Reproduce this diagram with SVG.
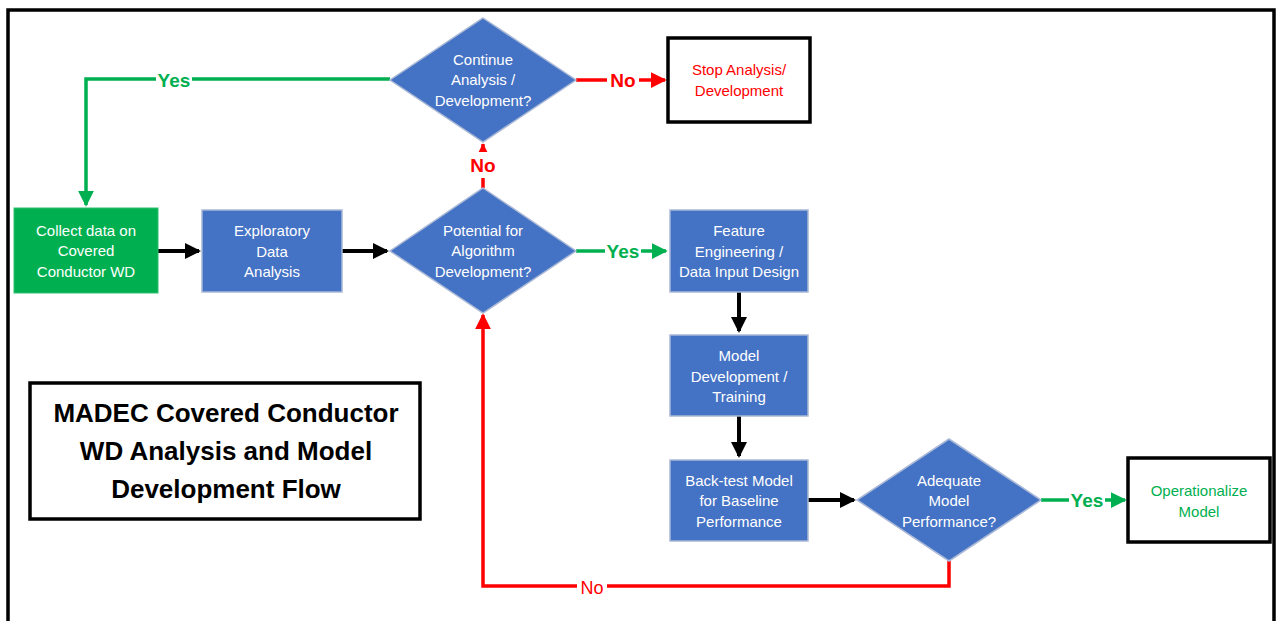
<svg xmlns="http://www.w3.org/2000/svg" width="1278" height="621" viewBox="0 0 1278 621">
<style>
.blue{fill:#4472C4;stroke:#A9B8D6;stroke-width:1.5}
.wt{fill:#FFFFFF;font-family:"Liberation Sans",Arial,sans-serif;font-size:15px;text-anchor:middle}
.box{fill:#FFFFFF;stroke:#000000;stroke-width:3.5}
.blk{stroke:#000000;stroke-width:4;fill:none}
.grn{stroke:#00B050;stroke-width:3.5;fill:none}
.red{stroke:#FF0000;stroke-width:3.5;fill:none}
.lblg{fill:#00B050;font-family:"Liberation Sans",Arial,sans-serif;font-size:19px;font-weight:bold;text-anchor:middle}
.lblr{fill:#FF0000;font-family:"Liberation Sans",Arial,sans-serif;font-size:19px;font-weight:bold;text-anchor:middle}
.lblr2{fill:#FF0000;font-family:"Liberation Sans",Arial,sans-serif;font-size:18px;text-anchor:middle}
</style>
<defs>
<marker id="ab" markerWidth="4" markerHeight="4" refX="3.5" refY="2" orient="auto" markerUnits="strokeWidth"><path d="M0,0 L4,2 L0,4 z" fill="#000000"/></marker>
<marker id="ag" markerWidth="4.5" markerHeight="4.5" refX="4" refY="2.25" orient="auto" markerUnits="strokeWidth"><path d="M0,0 L4.5,2.25 L0,4.5 z" fill="#00B050"/></marker>
<marker id="ar" markerWidth="4.5" markerHeight="4.5" refX="4" refY="2.25" orient="auto" markerUnits="strokeWidth"><path d="M0,0 L4.5,2.25 L0,4.5 z" fill="#FF0000"/></marker>
<marker id="ars" markerWidth="3" markerHeight="3" refX="2.8" refY="1.5" orient="auto" markerUnits="strokeWidth"><path d="M0,0 L3,1.5 L0,3 z" fill="#FF0000"/></marker>
</defs>
<rect x="8" y="10" width="1266" height="620" fill="#FFFFFF" stroke="#000000" stroke-width="3.5"/>

<g id="connectors">
<path class="grn" d="M390,79 H86 V205" marker-end="url(#ag)"/>
<rect x="156" y="70" width="36" height="20" fill="#FFFFFF"/>
<text class="lblg" x="174" y="87">Yes</text>
<path class="red" d="M576,80 H665" marker-end="url(#ar)"/>
<rect x="607" y="70" width="32" height="20" fill="#FFFFFF"/>
<text class="lblr" x="623" y="87">No</text>
<path class="blk" d="M158,251 H199" marker-end="url(#ab)"/>
<path class="blk" d="M342,251 H387" marker-end="url(#ab)"/>
<path class="red" d="M483,188 V144" marker-end="url(#ars)"/>
<rect x="467" y="152" width="32" height="26" fill="#FFFFFF"/>
<text class="lblr" x="483" y="172">No</text>
<path class="grn" d="M576,251 H666" marker-end="url(#ag)"/>
<rect x="605" y="241" width="36" height="20" fill="#FFFFFF"/>
<text class="lblg" x="623" y="258">Yes</text>
<path class="blk" d="M739,292 V331" marker-end="url(#ab)"/>
<path class="blk" d="M739,416 V456" marker-end="url(#ab)"/>
<path class="blk" d="M808,500 H854" marker-end="url(#ab)"/>
<path class="grn" d="M1041,500 H1125" marker-end="url(#ag)"/>
<rect x="1069" y="490" width="36" height="20" fill="#FFFFFF"/>
<text class="lblg" x="1087" y="507">Yes</text>
<path class="red" d="M949,561 V586 H483 V315" marker-end="url(#ar)"/>
<rect x="577" y="577" width="30" height="20" fill="#FFFFFF"/>
<text class="lblr2" x="592" y="594">No</text>
</g>

<g id="continue">
<polygon class="blue" points="483,18 576,80 483,142 390,80"/>
<text class="wt" x="483" y="65">Continue</text>
<text class="wt" x="483" y="85">Analysis /</text>
<text class="wt" x="483" y="106">Development?</text>
</g>

<g id="stop">
<rect class="box" x="668" y="38" width="142" height="84"/>
<text class="wt" style="fill:#FF0000" x="739" y="75">Stop Analysis/</text>
<text class="wt" style="fill:#FF0000" x="739" y="96">Development</text>
</g>

<g id="collect">
<rect x="14" y="208" width="144" height="85" fill="#00B050" stroke="#33C070" stroke-width="1"/>
<text class="wt" x="86" y="236">Collect data on</text>
<text class="wt" x="86" y="256">Covered</text>
<text class="wt" x="86" y="277">Conductor WD</text>
</g>

<g id="exploratory">
<rect class="blue" x="202" y="210" width="140" height="82"/>
<text class="wt" x="272" y="236">Exploratory</text>
<text class="wt" x="272" y="257">Data</text>
<text class="wt" x="272" y="277">Analysis</text>
</g>

<g id="potential">
<polygon class="blue" points="483,188 576,251 483,313 390,251"/>
<text class="wt" x="483" y="236">Potential for</text>
<text class="wt" x="483" y="256">Algorithm</text>
<text class="wt" x="483" y="277">Development?</text>
</g>

<g id="feature">
<rect class="blue" x="670" y="210" width="138" height="82"/>
<text class="wt" x="739" y="236">Feature</text>
<text class="wt" x="739" y="257">Engineering /</text>
<text class="wt" x="739" y="277">Data Input Design</text>
</g>

<g id="modeldev">
<rect class="blue" x="670" y="335" width="138" height="81"/>
<text class="wt" x="739" y="361">Model</text>
<text class="wt" x="739" y="382">Development /</text>
<text class="wt" x="739" y="402">Training</text>
</g>

<g id="backtest">
<rect class="blue" x="670" y="460" width="138" height="81"/>
<text class="wt" x="739" y="486">Back-test Model</text>
<text class="wt" x="739" y="506">for Baseline</text>
<text class="wt" x="739" y="527">Performance</text>
</g>

<g id="adequate">
<polygon class="blue" points="949,439 1041,500 949,561 857,500"/>
<text class="wt" x="949" y="486">Adequate</text>
<text class="wt" x="949" y="506">Model</text>
<text class="wt" x="949" y="527">Performance?</text>
</g>

<g id="operationalize">
<rect class="box" x="1128" y="458" width="142" height="84"/>
<text class="wt" style="fill:#00B050" x="1199" y="496">Operationalize</text>
<text class="wt" style="fill:#00B050" x="1199" y="517">Model</text>
</g>

<g id="title">
<rect class="box" x="30" y="383" width="390" height="136"/>
<text x="226" y="422" fill="#000000" font-family="'Liberation Sans',Arial,sans-serif" font-size="26" font-weight="bold" text-anchor="middle">MADEC Covered Conductor</text>
<text x="226" y="460" fill="#000000" font-family="'Liberation Sans',Arial,sans-serif" font-size="26" font-weight="bold" text-anchor="middle">WD Analysis and Model</text>
<text x="226" y="498" fill="#000000" font-family="'Liberation Sans',Arial,sans-serif" font-size="26" font-weight="bold" text-anchor="middle">Development Flow</text>
</g>
</svg>
